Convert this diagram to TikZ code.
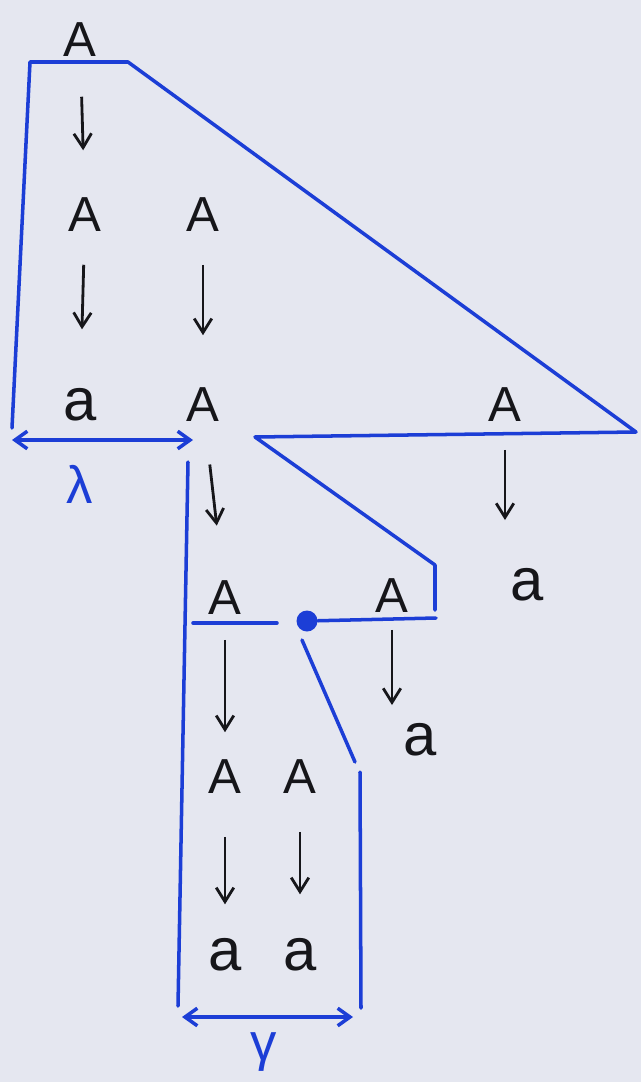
\documentclass[tikz,border=0pt]{standalone}
\usepackage{fontspec}
\setmainfont{Liberation Sans}
\usetikzlibrary{arrows.meta,calc}
\definecolor{bgc}{RGB}{229,231,240}
\definecolor{pen}{RGB}{28,62,214}
\definecolor{ink}{RGB}{22,22,26}
\begin{document}
\begin{tikzpicture}[x=0.02cm,y=-0.02cm,
  sym/.style={inner sep=0pt,text=ink,font=\fontsize{28}{30}\selectfont},
  lsym/.style={inner sep=0pt,text=ink,font=\fontsize{34}{36}\selectfont},
  lbl/.style={inner sep=0pt,text=pen,font=\fontsize{30}{32}\selectfont},
  arr/.style={draw=ink,line width=1.6pt,-{Straight Barb[length=8pt,width=10pt]}},
  blue/.style={draw=pen,line width=2pt,line cap=round,line join=round},
  dbl/.style={draw=pen,line width=2pt,{Straight Barb[length=7pt,width=10pt]}-{Straight Barb[length=7pt,width=10pt]}}]
\fill[bgc] (0,0) rectangle (641,1082);
\useasboundingbox (0,0) rectangle (641,1082);
% symbols
\node[sym] (t0) at (80,40) {A};
\node[sym] (a1) at (85,215) {A};
\node[lsym] (a2) at (80,405) {a};
\node[sym] (b1) at (203,215) {A};
\node[sym] (b2) at (203,405) {A};
\node[sym] (c1) at (225,598) {A};
\node[sym] (c2) at (225,777) {A};
\node[lsym] (c3) at (225,955) {a};
\node[sym] (d1) at (300,777) {A};
\node[lsym] (d2) at (300,955) {a};
\node[sym] (e1) at (392,596) {A};
\node[lsym] (e2) at (420,740) {a};
\node[sym] (f1) at (505,405) {A};
\node[lsym] (f2) at (527,585) {a};
% arrows
\draw[arr,shorten <=0.79cm,shorten >=0.95cm] (t0) -- (a1);
\draw[arr,shorten <=0.65cm,shorten >=1.18cm] (a1) -- (a2);
\draw[arr,shorten <=0.65cm,shorten >=1.05cm] (b1) -- (b2);
\draw[arr,shorten <=0.85cm,shorten >=1.11cm] (b2) -- (c1);
\draw[arr,shorten <=0.49cm,shorten >=0.55cm] (c1) -- (c2);
\draw[arr,shorten <=0.85cm,shorten >=0.68cm] (c2) -- (c3);
\draw[arr,shorten <=0.75cm,shorten >=0.88cm] (d1) -- (d2);
\draw[arr,shorten <=0.33cm,shorten >=0.7cm] (e1) -- (e1 |- e2);
\draw[arr,shorten <=0.55cm,shorten >=1.3cm] (f1) -- (f1 |- f2);
% blue outline coordinates
\coordinate (p1) at (12,428);
\coordinate (p2) at (30,62);
\coordinate (p3) at (128,62);
\coordinate (p4) at (636,432);
\coordinate (p5) at (255,437);
\coordinate (p6) at (435,565);
\coordinate (p7) at (435,610);
\coordinate (p8) at (436,618);
\coordinate (q1) at (193,623);
\coordinate (q2) at (277,623);
\coordinate (r1) at (302,640);
\coordinate (r2) at (355,762);
\coordinate (s1) at (360,772);
\coordinate (s2) at (361,1008);
\coordinate (u1) at (188,462);
\coordinate (u2) at (178,1006);
\coordinate (l1) at (12,440);
\coordinate (l2) at (193,440);
\coordinate (g1) at (182,1017);
\coordinate (g2) at (353,1017);
\node[circle,fill=pen,inner sep=0pt,minimum size=0.42cm] (dot) at (307,621) {};
\draw[blue] (p1) -- (p2) -- (p3) -- (p4) -- (p5) -- (p6) -- (p7);
\draw[blue] (p8) -- (dot);
\draw[blue] (q1) -- (q2);
\draw[blue] (r1) -- (r2);
\draw[blue] (s1) -- (s2);
\draw[blue] (u1) -- (u2);
\draw[dbl] (l1) -- (l2);
\draw[dbl] (g1) -- (g2);
\node[lbl] (lam) at (80,484) {λ};
\node[lbl] (gam) at (264,1052) {γ};
\end{tikzpicture}
\end{document}
